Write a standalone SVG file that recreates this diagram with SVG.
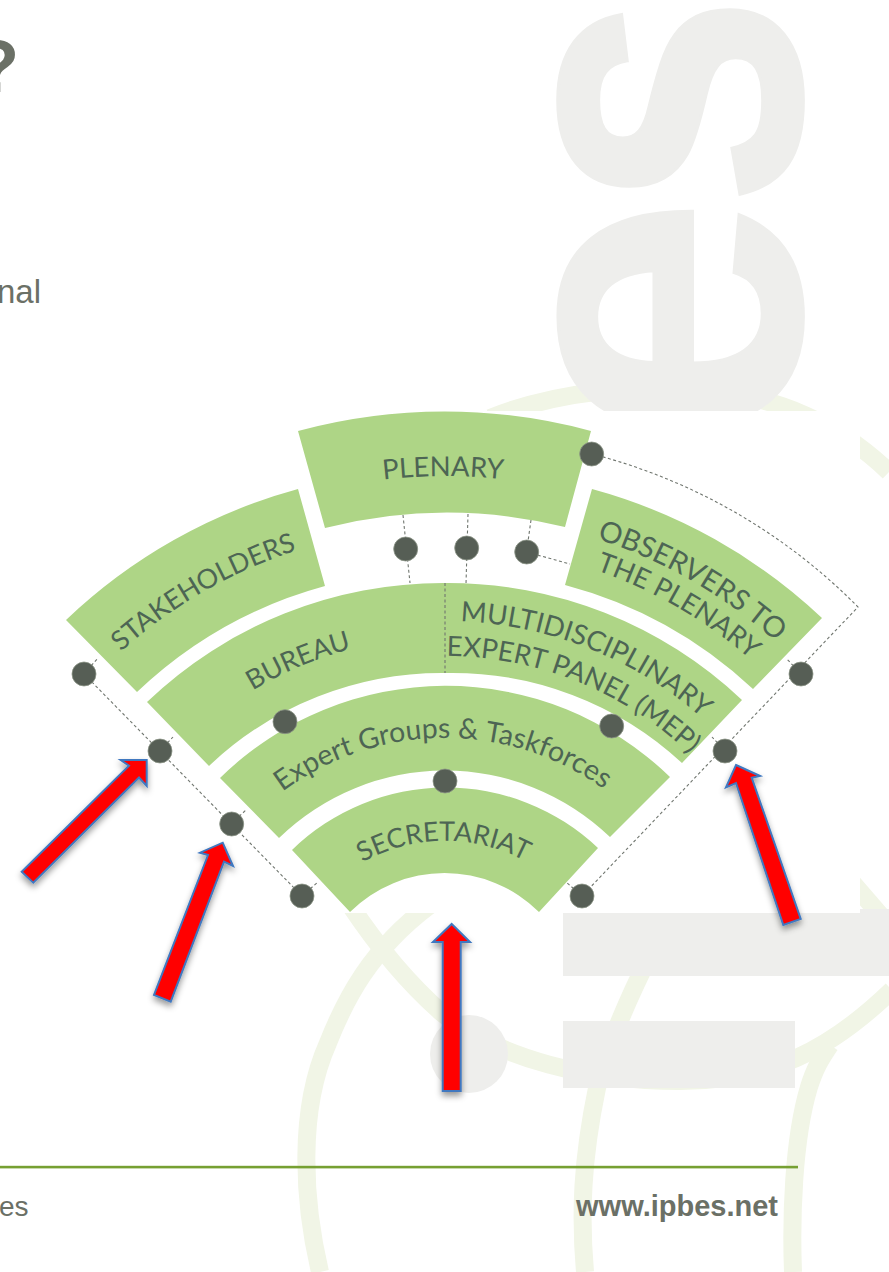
<svg xmlns="http://www.w3.org/2000/svg" width="889" height="1272" viewBox="0 0 889 1272">
<style>
.wm{fill:#eeeeec}
.wt{stroke:#eeeeec;stroke-width:3;font-family:"Liberation Sans",Arial,sans-serif;font-weight:700;font-size:448px}
.wg{fill:none;stroke:#f1f5e6;stroke-width:18}
.sec{fill:#aed586}
.dot{fill:#565e55;stroke:#8b9486;stroke-width:.8}
.lb{font-family:"Lato","Liberation Sans",sans-serif;font-size:27.500px;fill:#4d6554;text-anchor:middle}
.cn{fill:none;stroke:#70766f;stroke-width:1.100;stroke-dasharray:3 2.500}
.ar{fill:#ff0000;stroke:#3f78c0;stroke-width:2;stroke-linejoin:miter;filter:url(#sh)}
.ft{font-family:"Liberation Sans",Arial,sans-serif;fill:#6b7066}
</style>
<defs>
<filter id="sh" x="-40%" y="-20%" width="180%" height="140%"><feDropShadow dx="0" dy="4" stdDeviation="3" flood-color="#000" flood-opacity=".4"/></filter>
<path id="r534" d="M-17.4,743A534,534 0 0 1 907.4,743"/>
<path id="r483" d="M26.7,768.5A483,483 0 0 1 863.3,768.5"/>
<path id="r373" d="M122,823.5A373,373 0 0 1 768,823.5"/>
<path id="r495" d="M16.3,762.5A495,495 0 0 1 873.7,762.5"/>
<path id="r465" d="M42.3,777.5A465,465 0 0 1 847.7,777.5"/>
<path id="r389" d="M108.1,815.5A389,389 0 0 1 781.9,815.5"/>
<path id="r354" d="M138.4,833A354,354 0 0 1 751.6,833"/>
<path id="r272" d="M209.4,874A272,272 0 0 1 680.6,874"/>
<path id="r169" d="M298.6,925.5A169,169 0 0 1 591.4,925.5"/>
</defs>
<rect width="889" height="1272" fill="#fff"/>
<g id="watermark">
<path class="wg" d="M490,418C560,390 640,385 700,390C780,396 840,425 889,472"/>
<path class="wg" d="M850,880L889,925"/>
<path class="wg" d="M320,1272C303,1200 298,1110 328,1043C345,1000 370,950 430,905"/>
<path class="wg" d="M350,905C380,950 410,985 442,1013C500,1060 590,1081 680,1081C770,1081 830,1050 892,990"/>
<path class="wg" d="M585,1272C580,1215 582,1160 597,1088C605,1055 625,1005 650,955"/>
<path class="wg" d="M793,1272C791,1220 793,1140 809,1087C815,1068 820,1060 830,1045"/>
<text class="wm wt" transform="translate(799,445) rotate(-90)">e</text>
<text class="wm wt" transform="translate(799,208) rotate(-90) scale(.86,1)">s</text>
<circle class="wm" cx="469" cy="1054" r="39"/>
<rect class="wm" x="563" y="909" width="326" height="67"/>
<rect class="wm" x="563" y="1021" width="232" height="67"/>
</g>
<rect id="picture" x="65" y="411" width="795" height="502" fill="#fff"/>
<g id="connectors">
<path class="cn" d="M592,454A576,576 0 0 1 858,607L582,896"/>
<path class="cn" d="M84,674L302,896"/>
<path class="cn" d="M84,674L98,658M160,751L173,737M231,824L246,810M302,896L318,882M801,674L786,658M725,751L712,737M582,896L566,882"/>
<path class="cn" d="M403,515L410,583M468,514L466,584M531,520L526.500,552L570,564"/>
</g>
<g id="plenary"><path class="sec" d="M298,431A560,560 0 0 1 591,431L565,527A497,497 0 0 0 325,528Z"/><text class="lb" transform="rotate(-.2 445 1010)"><textPath href="#r534" startOffset="50%">PLENARY</textPath></text></g>
<g id="stakeholders"><path class="sec" d="M66,620A543,543 0 0 1 298,489L325,586A441,441 0 0 0 137,692Z"/><text class="lb" transform="rotate(-30 445 1010)" style="font-size:27px"><textPath href="#r483" startOffset="50%">STAKEHOLDERS</textPath></text></g>
<g id="observers"><path class="sec" d="M592,489A543,543 0 0 1 822,618L753,689A441,441 0 0 0 565,585Z"/><text class="lb" transform="rotate(29.900 445 1010)" style="font-size:29px"><textPath href="#r495" startOffset="50%">OBSERVERS TO</textPath></text><text class="lb" transform="rotate(30 445 1010)" style="font-size:27.500px"><textPath href="#r465" startOffset="50%">THE PLENARY</textPath></text></g>
<g id="bureau"><path class="sec" d="M147,702A428,428 0 0 1 445,583L445,673A338,338 0 0 0 209,766Z"/><text class="lb" transform="rotate(-22.800 445 1010)" style="font-size:27px"><textPath href="#r373" startOffset="50%">BUREAU</textPath></text></g>
<g id="mep"><path class="sec" d="M445,583A428,428 0 0 1 742,700L682,763A338,338 0 0 0 445,673Z"/><text class="lb" transform="rotate(21.800 445 1010)" style="font-size:27.800px"><textPath href="#r389" startOffset="50%">MULTIDISCIPLINARY</textPath></text><text class="lb" transform="rotate(22 445 1010)"><textPath href="#r354" startOffset="50%">EXPERT PANEL (MEP)</textPath></text></g>
<path class="cn" d="M445,583V673"/>
<g id="expert-groups"><path class="sec" d="M220,778A322,322 0 0 1 670,777L610,837A238,238 0 0 0 279,838Z"/><text class="lb" transform="rotate(-.5 445 1010)" style="font-size:28.400px"><textPath href="#r272" startOffset="50%">Expert Groups &amp; Taskforces</textPath></text></g>
<g id="secretariat"><path class="sec" d="M292,850A221,221 0 0 1 598,848L539,912A134,134 0 0 0 350,912Z"/><text class="lb" transform="rotate(-.5 445 1010)" style="font-size:27px"><textPath href="#r169" startOffset="50%">SECRETARIAT</textPath></text></g>
<g id="dots">
<circle class="dot" cx="591.700" cy="454" r="12"/><circle class="dot" cx="405.700" cy="549" r="12"/><circle class="dot" cx="466.700" cy="548" r="12"/><circle class="dot" cx="526.700" cy="552" r="12"/><circle class="dot" cx="84" cy="674" r="12"/><circle class="dot" cx="160" cy="751" r="12"/><circle class="dot" cx="231.700" cy="824" r="12"/><circle class="dot" cx="302" cy="896" r="12"/><circle class="dot" cx="801" cy="674" r="12"/><circle class="dot" cx="725" cy="751" r="12"/><circle class="dot" cx="582" cy="896" r="12"/><circle class="dot" cx="285" cy="721.700" r="12"/><circle class="dot" cx="611.700" cy="726" r="12"/><circle class="dot" cx="445" cy="781" r="12"/>
</g>
<g id="arrows">
<polygon class="ar" points="451.700,924 470,942 460.700,942 460.700,1091 442.700,1091 442.700,942 433,942"/>
<polygon class="ar" points="146.700,760 146.700,786 139,777.500 33.300,882.700 21.700,871.700 129,765.700 120.700,760"/>
<polygon class="ar" points="222.700,842.700 233,866 224,861.700 170.700,1001.700 154,995 208,855 200,852.700"/>
<polygon class="ar" points="736,765 760,776 751.700,777.700 800.700,919 783.300,925 736,783 726,787.300"/>
</g>
<g id="page-text">
<text class="ft" x="-26" y="92" font-size="74" font-weight="700">?</text>
<text class="ft" x="41" y="303" font-size="33" text-anchor="end">nal</text>
<text class="ft" x="28.500" y="1216" font-size="28" text-anchor="end">es</text>
<text class="ft" x="778" y="1216" font-size="29" font-weight="700" text-anchor="end">www.ipbes.net</text>
</g>
<rect id="rule" x="0" y="1165.800" width="798" height="2.600" fill="#76a032"/>
</svg>
